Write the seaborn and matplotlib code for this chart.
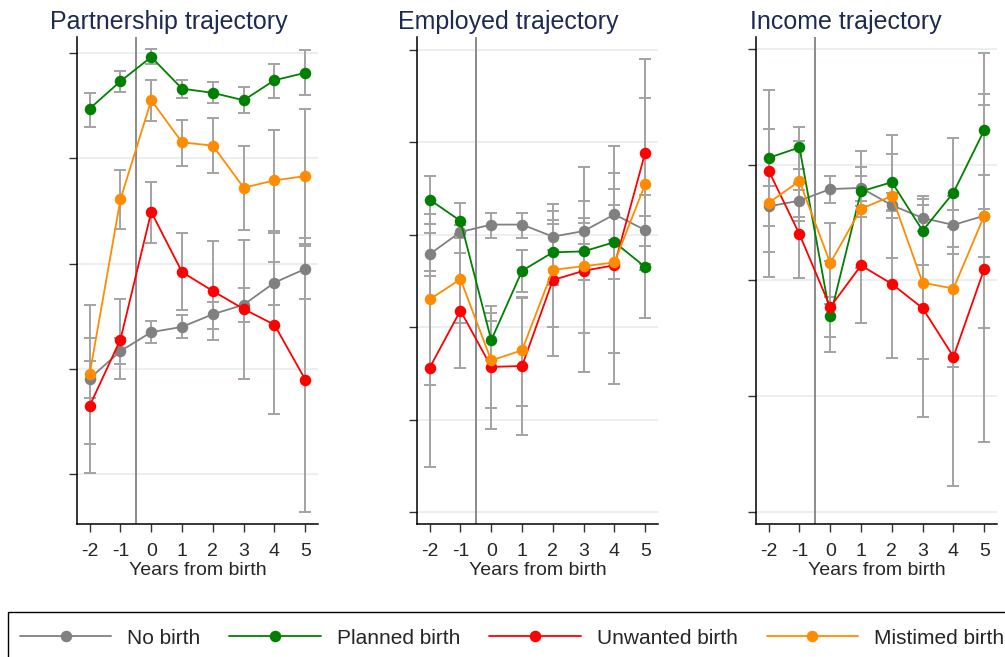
import numpy as np
import pandas as pd
import seaborn as sns
import matplotlib.pyplot as plt
from matplotlib.lines import Line2D
from matplotlib.patches import Rectangle

# years relative to birth
years = [-2, -1, 0, 1, 2, 3, 4, 5]
year_labels = ["-2", "-1", "0", "1", "2", "3", "4", "5"]
groups = ["No birth", "Planned birth", "Unwanted birth", "Mistimed birth"]
colors = ["#808080", "#008000", "#ff0000", "#ff8c00"]

# partnership
partner_mean = {
    "No birth": [0.591, 0.617, 0.635, 0.640, 0.652, 0.661, 0.682, 0.695],
    "Planned birth": [0.847, 0.873, 0.896, 0.866, 0.862, 0.855, 0.874, 0.881],
    "Unwanted birth": [0.565, 0.628, 0.749, 0.692, 0.674, 0.657, 0.642, 0.590],
    "Mistimed birth": [0.595, 0.761, 0.855, 0.815, 0.812, 0.772, 0.779, 0.783],
}
partner_lo = {
    "No birth": [0.573, 0.605, 0.625, 0.629, 0.638, 0.645, 0.661, 0.666],
    "Planned birth": [0.830, 0.863, 0.889, 0.857, 0.852, 0.843, 0.857, 0.860],
    "Unwanted birth": [0.501, 0.591, 0.720, 0.656, 0.628, 0.591, 0.557, 0.464],
    "Mistimed birth": [0.529, 0.733, 0.835, 0.793, 0.786, 0.732, 0.731, 0.719],
}
partner_hi = {
    "No birth": [0.608, 0.629, 0.646, 0.651, 0.664, 0.677, 0.702, 0.724],
    "Planned birth": [0.862, 0.883, 0.904, 0.874, 0.872, 0.868, 0.889, 0.903],
    "Unwanted birth": [0.629, 0.666, 0.777, 0.729, 0.721, 0.722, 0.729, 0.717],
    "Mistimed birth": [0.661, 0.789, 0.874, 0.836, 0.838, 0.812, 0.827, 0.847],
}

# employment
employ_mean = {
    "No birth": [0.679, 0.703, 0.711, 0.711, 0.698, 0.704, 0.722, 0.705],
    "Planned birth": [0.738, 0.715, 0.586, 0.661, 0.681, 0.682, 0.692, 0.665],
    "Unwanted birth": [0.556, 0.618, 0.557, 0.558, 0.651, 0.661, 0.667, 0.789],
    "Mistimed birth": [0.630, 0.652, 0.564, 0.575, 0.662, 0.666, 0.670, 0.755],
}
employ_lo = {
    "No birth": [0.655, 0.696, 0.697, 0.696, 0.684, 0.690, 0.694, 0.668],
    "Planned birth": [0.712, 0.697, 0.564, 0.638, 0.646, 0.651, 0.652, 0.610],
    "Unwanted birth": [0.449, 0.556, 0.490, 0.483, 0.569, 0.551, 0.539, 0.688],
    "Mistimed birth": [0.537, 0.604, 0.512, 0.515, 0.600, 0.594, 0.572, 0.662],
}
employ_hi = {
    "No birth": [0.702, 0.711, 0.724, 0.724, 0.712, 0.718, 0.749, 0.743],
    "Planned birth": [0.764, 0.734, 0.607, 0.683, 0.716, 0.713, 0.732, 0.720],
    "Unwanted birth": [0.661, 0.680, 0.623, 0.632, 0.733, 0.773, 0.796, 0.890],
    "Mistimed birth": [0.722, 0.701, 0.615, 0.633, 0.726, 0.737, 0.767, 0.848],
}

# income
income_mean = {
    "No birth": [0.064, 0.069, 0.079, 0.080, 0.065, 0.054, 0.048, 0.056],
    "Planned birth": [0.106, 0.115, -0.031, 0.077, 0.085, 0.043, 0.076, 0.130],
    "Unwanted birth": [0.095, 0.040, -0.023, 0.013, -0.003, -0.024, -0.066, 0.010],
    "Mistimed birth": [0.067, 0.086, 0.015, 0.062, 0.073, -0.002, -0.007, 0.056],
}
income_lo = {
    "No birth": [0.047, 0.055, 0.067, 0.069, 0.054, 0.043, 0.023, 0.020],
    "Planned birth": [0.082, 0.096, -0.049, 0.055, 0.060, 0.013, 0.029, 0.062],
    "Unwanted birth": [0.025, 0.002, -0.062, -0.037, -0.067, -0.118, -0.178, -0.140],
    "Mistimed birth": [0.003, 0.051, -0.020, 0.011, 0.019, -0.068, -0.075, -0.041],
}
income_hi = {
    "No birth": [0.082, 0.084, 0.090, 0.090, 0.076, 0.065, 0.073, 0.091],
    "Planned birth": [0.131, 0.133, -0.014, 0.098, 0.109, 0.073, 0.123, 0.197],
    "Unwanted birth": [0.165, 0.078, 0.017, 0.064, 0.061, 0.070, 0.046, 0.161],
    "Mistimed birth": [0.131, 0.121, 0.050, 0.112, 0.126, 0.065, 0.061, 0.152],
}

titles = ["Partnership trajectory", "Employed trajectory", "Income trajectory"]
yticks_list = [[0.5, 0.6, 0.7, 0.8, 0.9],
               [0.4, 0.5, 0.6, 0.7, 0.8, 0.9],
               [-0.2, -0.1, 0.0, 0.1, 0.2]]
ylims = [(0.453, 0.915), (0.387, 0.914), (-0.2106, 0.2105)]

sns.set_theme(style="white")
plt.rcParams['font.family'] = ['Liberation Sans', 'DejaVu Sans']
plt.rcParams['axes.unicode_minus'] = False

fig = plt.figure(figsize=(10.05, 6.57), dpi=100)
W, H = 1005, 657
panel_left = [76.7, 416.7, 755.7]
title_x = [169, 508, 846]
panels = [(partner_mean, partner_lo, partner_hi),
          (employ_mean, employ_lo, employ_hi),
          (income_mean, income_lo, income_hi)]

for i, (mean, lo, hi) in enumerate(panels):
    ax = fig.add_axes([panel_left[i] / W, 1 - 524 / H, 241.5 / W, (524 - 37) / H])

    # 置信区间
    for g in groups:
        m = np.array(mean[g])
        ax.errorbar(years, m, yerr=[m - np.array(lo[g]), np.array(hi[g]) - m],
                    fmt='none', ecolor='#a3a3a3', elinewidth=1.4, capsize=4,
                    capthick=1.4, zorder=2)

    df = pd.DataFrame([(g, y, v) for g in groups for y, v in zip(years, mean[g])],
                      columns=["group", "year", "value"])
    sns.lineplot(data=df, x="year", y="value", hue="group", hue_order=groups,
                 palette=colors, marker="o", markersize=8.3, markeredgewidth=0,
                 linewidth=1.3, errorbar=None, legend=False, ax=ax, zorder=3)

    ax.axvline(-0.5, color='#8a8a8a', linewidth=1.4, zorder=1)

    ax.set_xlim(-2.42, 5.42)
    ax.set_ylim(*ylims[i])
    ax.set_xticks(years)
    ax.set_xticklabels(year_labels)
    ax.set_yticks(yticks_list[i])
    ax.set_yticklabels([])
    ax.yaxis.grid(True, color='#e8eff1', linewidth=1.3)
    ax.set_axisbelow(True)
    ax.set_xlabel("Years from birth", fontsize=14, labelpad=1)
    ax.set_ylabel("")
    ax.tick_params(axis='both', which='both', length=6, width=1, color='#333333',
                   labelsize=14, bottom=True, left=True)
    ax.tick_params(axis='x', pad=8)
    ax.spines['top'].set_visible(False)
    ax.spines['right'].set_visible(False)
    ax.spines['left'].set_color('black')
    ax.spines['bottom'].set_color('black')
    ax.spines['left'].set_linewidth(1.1)
    ax.spines['bottom'].set_linewidth(1.1)

    fig.text(title_x[i] / W, 1 - 22 / H, titles[i], fontsize=18, color='#1c2b4f',
             ha='center', va='center')

handles = [Line2D([0], [0], color=c, linewidth=1.3, marker='o', markersize=8.3,
                  markeredgewidth=0) for c in colors]
leg = fig.legend(handles, groups, loc='upper left',
                 bbox_to_anchor=(8.3 / W, 1 - 617.3 / H), ncol=4, fontsize=15,
                 frameon=False, borderpad=0.55,
                 handlelength=4.4, handletextpad=0.75, columnspacing=1.4,
                 borderaxespad=0)

# legend box runs off the right and bottom edge
fig.add_artist(Rectangle((8.3 / W, -0.02), 1.0, (657 + 13 - 612.3) / H,
                         transform=fig.transFigure, fill=False,
                         edgecolor='black', linewidth=1.0, clip_on=False))

fig.savefig("out.png", dpi=100)
